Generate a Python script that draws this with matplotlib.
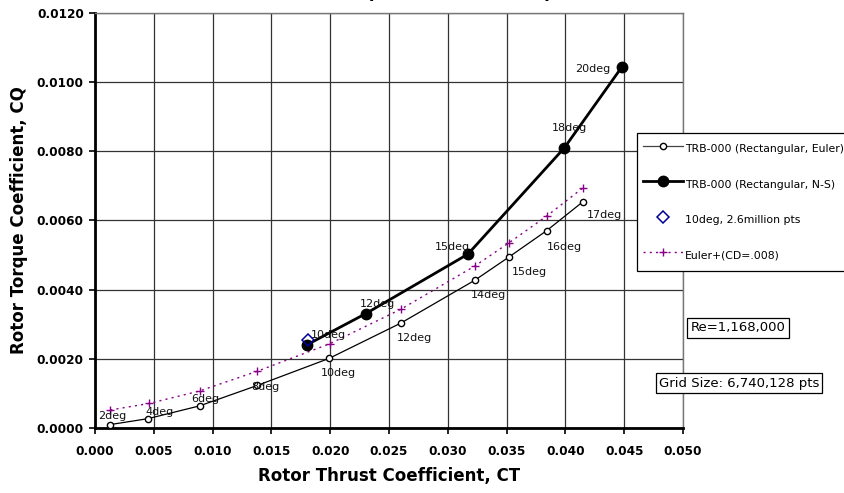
import numpy as np
import matplotlib
matplotlib.use("Agg")
import matplotlib.pyplot as plt

# Euler, rectangular blade (open circles)
euler_ct = [0.0013, 0.0045, 0.0089, 0.0138, 0.0199, 0.0260, 0.0323, 0.0352, 0.0384, 0.0415]
euler_cq = [0.00010, 0.00027, 0.00064, 0.00123, 0.00201, 0.00303, 0.00427, 0.00494, 0.00570, 0.00654]
euler_deg = ["2deg", "4deg", "6deg", "8deg", "10deg", "12deg", "14deg", "15deg", "16deg", "17deg"]

# Navier-Stokes, rectangular blade (filled circles)
ns_ct = [0.0180, 0.0230, 0.0317, 0.0399, 0.0448]
ns_cq = [0.00240, 0.00330, 0.00502, 0.00809, 0.01043]
ns_deg = ["10deg", "12deg", "15deg", "18deg", "20deg"]

# 10deg fine grid point
fine_ct = [0.0181]
fine_cq = [0.00254]

# Euler + CD=.008
cd_ct = [0.0013, 0.0046, 0.0089, 0.0138, 0.0200, 0.0260, 0.0323, 0.0352, 0.0384, 0.0415]
cd_cq = [0.00052, 0.00071, 0.00107, 0.00164, 0.00244, 0.00343, 0.00468, 0.00535, 0.00612, 0.00694]

# label offsets (points) for the degree labels
euler_off = [(-9, 4), (-2, 3), (-6, 3), (-4, -3), (-6, -13), (-3, -13), (-3, -13), (2, -13), (0, -14), (3, -12)]
ns_off = [(3, 5), (-4, 5), (-24, 3), (-9, 12), (-34, -4)]

fig = plt.figure(figsize=(8.45, 4.93), dpi=100)
ax = fig.add_axes([0.1124, 0.1318, 0.6960, 0.8428])

ax.plot(euler_ct, euler_cq, color="black", lw=0.9, marker="o", ms=4.5,
        mfc="white", mec="black", mew=1.0, label="TRB-000 (Rectangular, Euler)", zorder=3)
ax.plot(ns_ct, ns_cq, color="black", lw=2.0, marker="o", ms=7.5,
        mfc="black", mec="black", label="TRB-000 (Rectangular, N-S)", zorder=4)
ax.plot(fine_ct, fine_cq, ls="none", marker="D", ms=6.5, mfc="none", mec="#000099",
        mew=1.1, label="10deg, 2.6million pts", zorder=5)
ax.plot(cd_ct, cd_cq, color="#880088", lw=1.0, ls=(0, (1.5, 3)), marker="+", ms=6,
        mew=1.0, label="Euler+(CD=.008)", zorder=3)

for x, y, t, o in zip(euler_ct, euler_cq, euler_deg, euler_off):
    ax.annotate(t, (x, y), xytext=o, textcoords="offset points", fontsize=8,
                color="#111111", zorder=6)
for x, y, t, o in zip(ns_ct, ns_cq, ns_deg, ns_off):
    ax.annotate(t, (x, y), xytext=o, textcoords="offset points", fontsize=8,
                color="#111111", zorder=6)

ax.set_xlim(0, 0.050)
ax.set_ylim(0, 0.0120)
ax.set_xticks(np.arange(0, 0.0501, 0.005))
ax.set_yticks(np.arange(0, 0.01201, 0.002))
ax.set_xticklabels(["%.3f" % v for v in np.arange(0, 0.0501, 0.005)])
ax.set_yticklabels(["%.4f" % v for v in np.arange(0, 0.01201, 0.002)])
for lab in ax.get_xticklabels() + ax.get_yticklabels():
    lab.set_fontweight("bold")
    lab.set_fontsize(8.7)
ax.tick_params(direction="out", length=4, width=1.2, color="black", pad=4)
ax.tick_params(axis="x", pad=8)

ax.grid(True, color="#333333", lw=0.9)
ax.set_axisbelow(True)
for s in ["left", "bottom"]:
    ax.spines[s].set_linewidth(2.0)
    ax.spines[s].set_color("black")
for s in ["top", "right"]:
    ax.spines[s].set_linewidth(1.0)
    ax.spines[s].set_color("#777777")

ax.set_xlabel("Rotor Thrust Coefficient, CT", fontsize=12, fontweight="bold", labelpad=7)
ax.set_ylabel("Rotor Torque Coefficient, CQ", fontsize=12, fontweight="bold", labelpad=6)

leg = fig.legend(loc="upper left", bbox_to_anchor=(637 / 845, 1 - 133 / 493),
                 fontsize=7.8, frameon=True, fancybox=False, edgecolor="black",
                 framealpha=1, handlelength=3.7, handleheight=2.5, handletextpad=0.15,
                 labelspacing=1.4, borderpad=0.55, borderaxespad=0)
leg.get_frame().set_linewidth(0.9)
leg.get_lines()[0].set_color("#444444")

box = dict(boxstyle="square,pad=0.25", fc="white", ec="black", lw=0.9)
fig.text(738 / 845, 1 - 328 / 493, "Re=1,168,000", fontsize=9.5, ha="center",
         va="center", bbox=box)
fig.text(739 / 845, 1 - 383 / 493, "Grid Size: 6,740,128 pts", fontsize=9.5,
         ha="center", va="center", bbox=box)

fig.text(445 / 845, 1 + 3 / 493, "Rotor Torque vs. Thrust Comparison",
         fontsize=12, fontweight="bold", ha="center", va="baseline")

fig.savefig("out.png", dpi=100)
